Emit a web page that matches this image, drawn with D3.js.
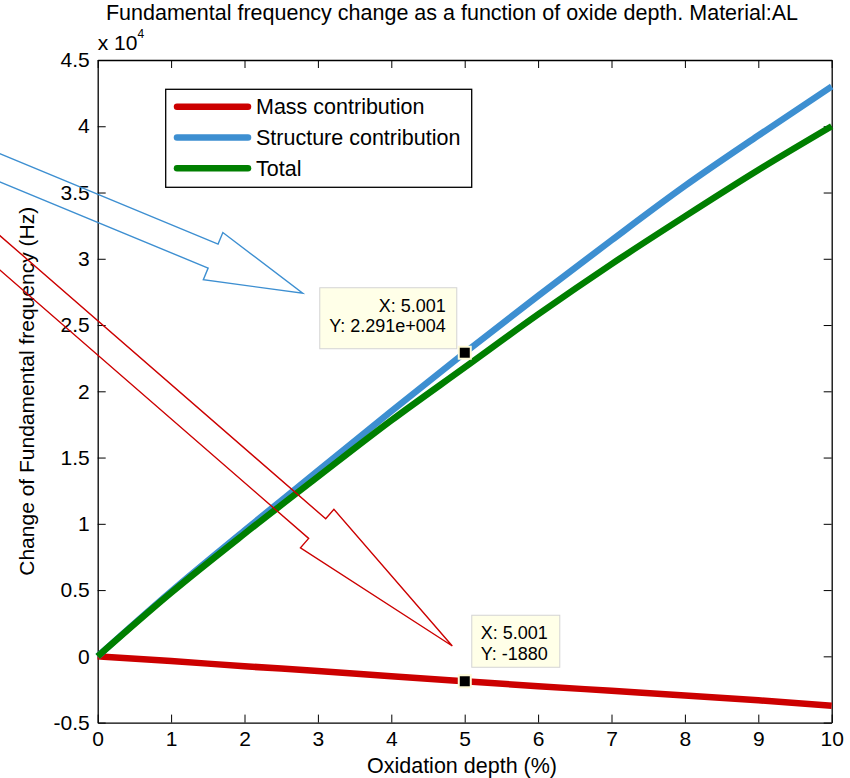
<!DOCTYPE html>
<html>
<head>
<meta charset="utf-8">
<script src="https://cdn.jsdelivr.net/npm/d3@7"></script>
<style>
  body { margin: 0; background: #fff; }
  svg { display: block; font-family: "Liberation Sans", Arial, sans-serif; }
</style>
</head>
<body>
<svg width="850" height="778"></svg>
<script>
// data (Hz)
const depth = [0, 1, 2, 3, 4, 5, 6, 7, 8, 9, 10];
const massHz = [0, -350, -750, -1100, -1500, -1880, -2250, -2600, -2950, -3320, -3720];
const structureHz = [0, 4900, 9500, 14000, 18500, 22910, 27200, 31400, 35500, 39300, 43000];
const totalHz = [0, 4800, 9250, 13550, 17800, 21800, 25800, 29600, 33200, 36700, 40000];

const seriesNames = ["Mass contribution", "Structure contribution", "Total"];
const seriesColors = ["#cc0000", "#3d8fd1", "#007f00"];

const xTicks = [0, 1, 2, 3, 4, 5, 6, 7, 8, 9, 10];
const yTicks = [-5000, 0, 5000, 10000, 15000, 20000, 25000, 30000, 35000, 40000, 45000];

// data tips
const tipX = [5.001, 5.001];
const tipY = [22910, -1880];
const tipText = [["X: 5.001", "Y: 2.291e+004"], ["X: 5.001", "Y: -1880"]];

// annotation arrows, tail/tip in data units
const arrowTail = [[-2.24, 38950], [-2.37, 35440]];
const arrowTip = [[2.793, 27400], [4.831, 780]];
const arrowHeadLen = [97, 179];
const arrowColors = ["#3d8fd1", "#cc0000"];

const svg = d3.select("svg");
const mLeft = 97.7, mRight = 831.7, mTop = 60, mBottom = 722.6;

const x = d3.scaleLinear().domain([0, 10]).range([mLeft, mRight]);
const y = d3.scaleLinear().domain([-5000, 45000]).range([mBottom, mTop]);

const fmtY = d => String(d / 10000);

// axes, MATLAB style: ticks inside, box on
svg.append("g")
   .attr("transform", `translate(0, ${mBottom})`)
   .call(d3.axisBottom(x).tickValues(xTicks).tickSize(-8).tickPadding(8.5).tickSizeOuter(0));
svg.append("g")
   .attr("transform", `translate(0, ${mTop})`)
   .call(d3.axisTop(x).tickValues(xTicks).tickSize(-8).tickFormat("").tickSizeOuter(0));
svg.append("g")
   .attr("transform", `translate(${mLeft}, 0)`)
   .call(d3.axisLeft(y).tickValues(yTicks).tickFormat(fmtY).tickSize(-8).tickPadding(8).tickSizeOuter(0));
svg.append("g")
   .attr("transform", `translate(${mRight}, 0)`)
   .call(d3.axisRight(y).tickValues(yTicks).tickFormat("").tickSize(-8).tickSizeOuter(0));

svg.selectAll(".domain").attr("stroke", "#000").attr("stroke-width", 1.3);
svg.selectAll(".tick line").attr("stroke", "#000");
svg.selectAll(".tick text")
   .attr("font-family", "Liberation Sans, Arial, sans-serif")
   .attr("font-size", 21)
   .attr("fill", "#000");

// lines
const line = d3.line()
               .x((d, i) => x(depth[i]))
               .y(d => y(d))
               .curve(d3.curveMonotoneX);

[massHz, structureHz, totalHz].forEach((vals, k) => {
  svg.append("path")
     .datum(vals)
     .attr("d", line)
     .attr("fill", "none")
     .attr("stroke", seriesColors[k])
     .attr("stroke-width", 6.5);
});

// title and labels
svg.append("text")
   .attr("x", 452).attr("y", 20)
   .attr("text-anchor", "middle")
   .attr("font-size", 21.5)
   .text("Fundamental frequency change as a function of oxide depth. Material:AL");

const mult = svg.append("text").attr("x", mLeft).attr("y", 50).attr("font-size", 21);
mult.append("tspan").text("x 10");
mult.append("tspan").attr("font-size", 12).attr("dy", -12).text("4");

svg.append("text")
   .attr("x", 462).attr("y", 773)
   .attr("text-anchor", "middle")
   .attr("font-size", 21.5)
   .text("Oxidation depth (%)");

svg.append("text")
   .attr("transform", `translate(34, ${(mTop + mBottom) / 2}) rotate(-90)`)
   .attr("text-anchor", "middle")
   .attr("font-size", 21)
   .text("Change of Fundamental frequency (Hz)");

// legend
const legend = svg.append("g");
legend.append("rect")
      .attr("x", 165.7).attr("y", 89.3)
      .attr("width", 306).attr("height", 98)
      .attr("fill", "#fff").attr("stroke", "#000").attr("stroke-width", 1.3);
seriesNames.forEach((name, k) => {
  const ly = 106.7 + k * 30.8;
  legend.append("line")
        .attr("x1", 177).attr("x2", 248)
        .attr("y1", ly).attr("y2", ly)
        .attr("stroke", seriesColors[k])
        .attr("stroke-width", 6.5)
        .attr("stroke-linecap", "round");
  legend.append("text")
        .attr("x", 256).attr("y", ly + 7.5)
        .attr("font-size", 21.5)
        .text(name);
});

// data tips
tipX.forEach((tx, k) => {
  const px = x(tx), py = y(tipY[k]);
  const g = svg.append("g");
  let bx, by, bw, anchor, tx0;
  if (k === 0) { bw = 137; bx = px - 8 - bw; by = py - 4 - 61; anchor = "end"; tx0 = bx + bw - 11; }
  else { bw = 88; bx = px + 7; by = py - 14 - 52; anchor = "start"; tx0 = bx + 9; }
  g.append("rect")
   .attr("x", bx).attr("y", by)
   .attr("width", bw).attr("height", k === 0 ? 61 : 52)
   .attr("fill", "#ffffe8").attr("stroke", "#d4d4d4").attr("stroke-width", 1);
  tipText[k].forEach((t, j) => {
    g.append("text")
     .attr("x", tx0).attr("y", by + 24 + j * 20.5)
     .attr("text-anchor", anchor)
     .attr("font-size", 18)
     .text(t);
  });
  g.append("rect")
   .attr("x", px - 6).attr("y", py - 6)
   .attr("width", 12).attr("height", 12)
   .attr("fill", "#000").attr("stroke", "#fffbd8").attr("stroke-width", 2);
});

// block arrows
const shaftW = 26, headW = 51;
arrowTail.forEach((tail, k) => {
  const t0 = [x(tail[0]), y(tail[1])];
  const t1 = [x(arrowTip[k][0]), y(arrowTip[k][1])];
  const dx = t1[0] - t0[0], dy = t1[1] - t0[1];
  const len = Math.hypot(dx, dy);
  const ux = dx / len, uy = dy / len;
  const nx = -uy, ny = ux;
  const b = [t1[0] - ux * arrowHeadLen[k], t1[1] - uy * arrowHeadLen[k]];
  const pts = [
    [t0[0] + nx * shaftW / 2, t0[1] + ny * shaftW / 2],
    [b[0] + nx * shaftW / 2, b[1] + ny * shaftW / 2],
    [b[0] + nx * headW / 2, b[1] + ny * headW / 2],
    t1,
    [b[0] - nx * headW / 2, b[1] - ny * headW / 2],
    [b[0] - nx * shaftW / 2, b[1] - ny * shaftW / 2],
    [t0[0] - nx * shaftW / 2, t0[1] - ny * shaftW / 2]
  ];
  svg.append("path")
     .attr("d", d3.line()(pts))
     .attr("fill", "none")
     .attr("stroke", arrowColors[k])
     .attr("stroke-width", 1.4);
});
</script>
</body>
</html>
